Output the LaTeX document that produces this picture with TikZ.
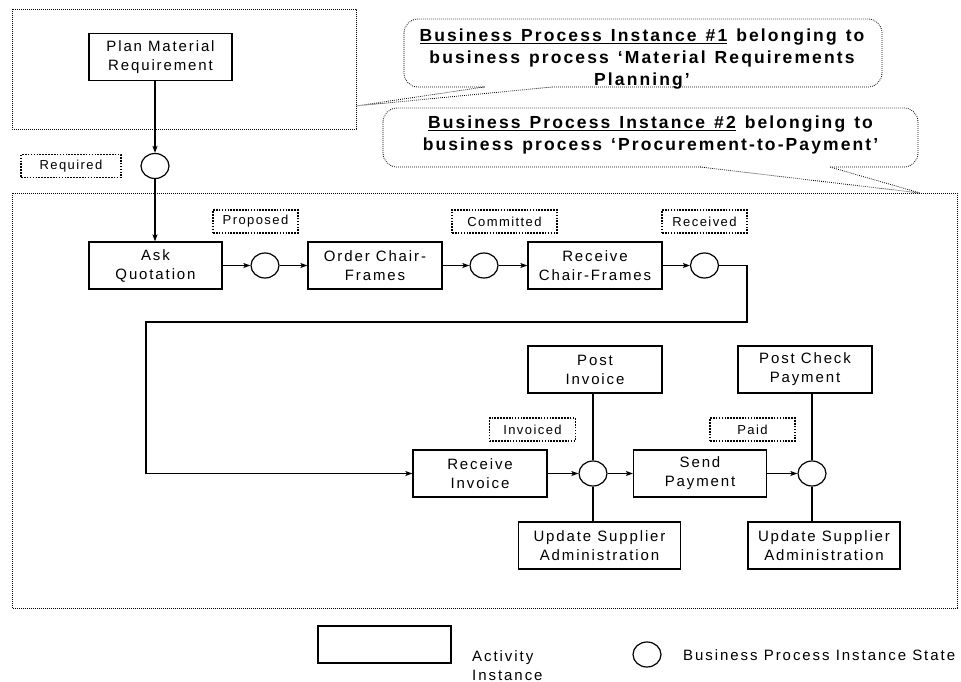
\documentclass[tikz,border=0pt]{standalone}
\usepackage{fontspec}
\setmainfont{Liberation Sans}
\newfontfamily\boxfont{Liberation Sans}[LetterSpace=12.5]
\newfontfamily\lblfont{Liberation Sans}[LetterSpace=11]
\newfontfamily\legfont{Liberation Sans}[LetterSpace=13]
\newfontfamily\notefont{Liberation Sans}[LetterSpace=12,WordSpace=1.3]
\usetikzlibrary{arrows.meta,shapes.geometric,calc}

\tikzset{
  act/.style={draw, line width=1.2pt, inner sep=0pt, minimum height=47pt,
    align=center, font=\fontsize{15}{19}\selectfont\boxfont},
  bpis/.style={draw, ellipse, line width=1.2pt, inner sep=0pt,
    minimum width=28pt, minimum height=25pt},
  lbl/.style={draw, line width=1.6pt, dash pattern=on 1.6pt off 1.3pt,
    inner sep=0pt, minimum height=23pt, font=\fontsize{13}{15}\selectfont\lblfont},
  grp/.style={line width=0.8pt, dash pattern=on 0.8pt off 1.2pt},
  notetext/.style={inner sep=0pt, align=center,
    font=\fontsize{17.5}{22}\selectfont\notefont\bfseries},
  noteline/.style={line width=0.8pt, dash pattern=on 0.8pt off 1.2pt},
  flow/.style={line width=1.2pt, -{Stealth[length=7pt,width=5pt,inset=1.5pt]}},
  link/.style={line width=1.2pt},
  legtext/.style={align=left, inner sep=0pt, font=\fontsize{15}{19}\selectfont\legfont},
}

\begin{document}
\begin{tikzpicture}[x=1pt,y=-1pt]
\useasboundingbox (0,0) rectangle (961,682);

% process instance frames
\draw[grp] (12,9) rectangle (356,129);
\draw[grp] (12,193) rectangle (957,608);
\coordinate (tip1) at (356,106);
\coordinate (tip2) at (920,193);

% callouts
\draw[noteline, rounded corners=14pt] (404,19) rectangle (882,87);
\node[notetext] (note1) at (642,59)
  {\underline{Business Process Instance \#1} belonging to\\
   business process ‘Material Requirements\\ Planning’};
\fill[white] (485,85) rectangle (551,89);
\draw[noteline] (484,87) -- (tip1) -- (552,87);

\draw[noteline, rounded corners=14pt] (383,108) rectangle (918,167);
\node[notetext] (note2) at (650.5,135)
  {\underline{Business Process Instance \#2} belonging to\\
   business process ‘Procurement-to-Payment’};
\fill[white] (701,165) rectangle (829,169);
\draw[noteline] (700,167) -- (tip2) -- (830,167);

% activities
\node[act, minimum width=143pt] (plan) at (160.5,57) {Plan Material\\Requirement};
\node[act, minimum width=133pt] (askq) at (155.5,265.5) {Ask\\Quotation};
\node[act, minimum width=134pt] (order) at (375,265.5) {Order Chair-\\Frames};
\node[act, minimum width=134pt] (recvcf) at (595,265.5) {Receive\\Chair-Frames};
\node[act, minimum width=134pt] (recvinv) at (480,473.5) {Receive\\Invoice};
\node[act, minimum width=134pt] (postinv) at (595,369.5) {Post\\Invoice};
\node[act, minimum width=162pt] (upd1) at (599.5,545.5) {Update Supplier\\Administration};
\node[act, minimum width=133pt] (sendpay) at (700,473.5) {Send\\Payment};
\node[act, minimum width=134pt] (postchk) at (805,369.5) {Post Check\\Payment};
\node[act, minimum width=152pt] (upd2) at (824,545.5) {Update Supplier\\Administration};

% states
\node[bpis] (sreq) at (155,166) {};
\node[bpis] (sprop) at (265,265.5) {};
\node[bpis] (scomm) at (484,265.5) {};
\node[bpis] (srecv) at (704.5,265.5) {};
\node[bpis] (sinv) at (593,473.5) {};
\node[bpis] (spaid) at (812,473.5) {};

\node[lbl, minimum width=100pt] (lreq) at (71,166) {Required};
\node[lbl, minimum width=85pt] (lprop) at (255.5,221.5) {Proposed};
\node[lbl, minimum width=105pt] (lcomm) at (504.5,221.5) {Committed};
\node[lbl, minimum width=85pt] (lrecv) at (704.5,221.5) {Received};
\node[lbl, minimum width=86pt] (linv) at (532.5,429.5) {Invoiced};
\node[lbl, minimum width=85pt] (lpaid) at (752.5,429.5) {Paid};

% flow
\draw[flow] (plan.south -| sreq) -- (sreq);
\draw[flow] (sreq.south) -- (sreq.south |- askq.north);
\draw[flow] (askq) -- (sprop);
\draw[flow] (sprop) -- (order);
\draw[flow] (order) -- (scomm);
\draw[flow] (scomm) -- (recvcf);
\draw[flow] (recvcf) -- (srecv);
\coordinate (loopR) at (747,322);
\coordinate (loopL) at (146,322);
\draw[flow] (srecv.east) -| (loopR) -- (loopL) |- (recvinv.west);
\draw[flow] (recvinv) -- (sinv);
\draw[flow] (sinv) -- (sendpay);
\draw[flow] (sendpay) -- (spaid);
\draw[link] (postinv.south -| sinv) -- (sinv);
\draw[link] (sinv) -- (sinv |- upd1.north);
\draw[link] (postchk.south -| spaid) -- (spaid);
\draw[link] (spaid) -- (spaid |- upd2.north);

% legend
\node[act, minimum width=133pt, minimum height=37pt] (legact) at (384.5,644.5) {};
\node[legtext, anchor=west] (legacttxt) at (472,665.5) {Activity\\Instance};
\node[bpis] (legbpis) at (647,654.5) {};
\node[legtext, anchor=west] (legbpistxt) at (683,655) {Business Process Instance State};

\end{tikzpicture}
\end{document}
